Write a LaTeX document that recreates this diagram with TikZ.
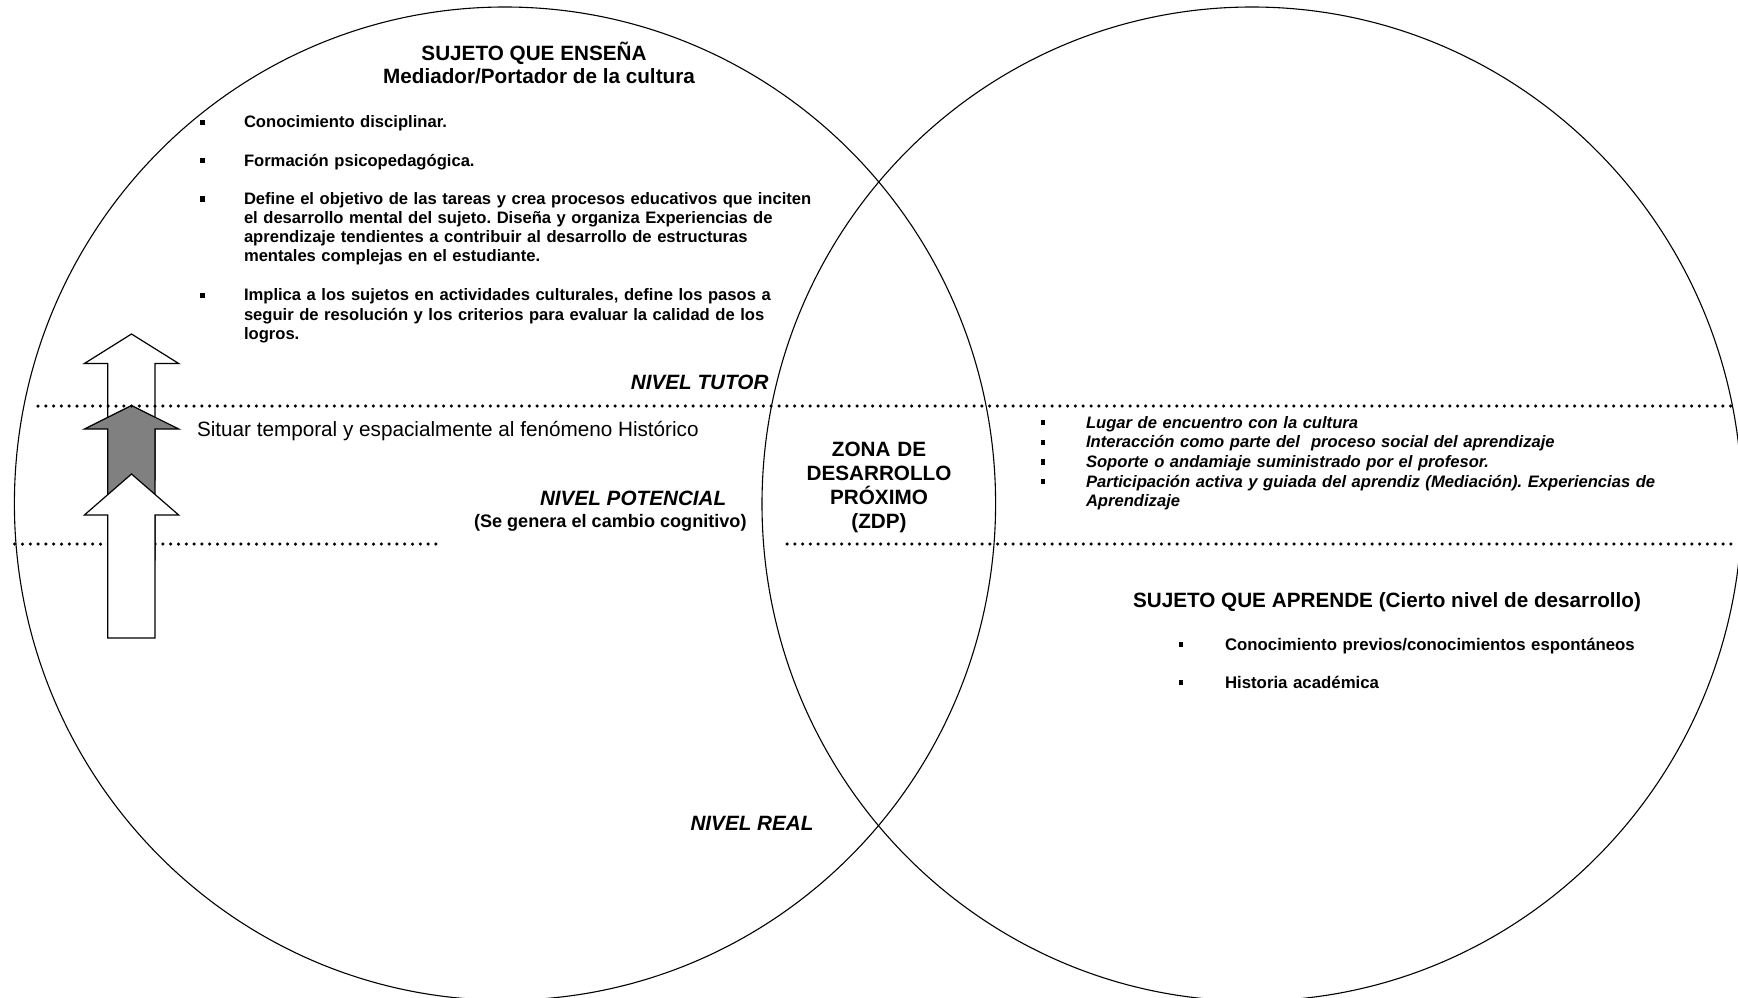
\documentclass[tikz,border=0pt]{standalone}
\usepackage{fontspec}
\setmainfont{Liberation Sans}
\frenchspacing
\begin{document}
\begin{tikzpicture}[x=1pt,y=-1pt,
  txt/.style={inner sep=0pt, outer sep=0pt},
  headtxt/.style={txt, font=\fontsize{20.7}{24.3}\selectfont\bfseries},
  leveltxt/.style={txt, font=\fontsize{20.7}{23.8}\selectfont\bfseries\itshape},
  bodytxt/.style={txt, anchor=base west, align=left, text width=620pt,
    font=\fontsize{16.6}{19.1}\selectfont\bfseries},
  ibodytxt/.style={bodytxt, font=\fontsize{16.6}{19.7}\selectfont\bfseries\itshape},
  sq/.style={rectangle, fill=black, draw=none, inner sep=0pt, minimum width=4.6pt, minimum height=5.2pt},
  outline/.style={draw=black, line width=1.1pt},
  dotline/.style={line width=3.5pt, dash pattern=on 0pt off 7.8pt, line cap=round},
  blockarrow/.style={draw=black, line width=1.2pt, line join=miter}]

\useasboundingbox[fill=white] (0,0) rectangle (1738,998);

% the two overlapping circles
\begin{scope}
  \clip (0,0) rectangle (1738,998);
  \draw[outline] (505,503.6) ellipse [x radius=490.6pt, y radius=496.6pt];
  \draw[outline] (1252,504) ellipse [x radius=490pt, y radius=497pt];
\end{scope}

% lower level line (behind the arrows)
\draw[dotline] (14.7,544) -- (436,544);
\draw[dotline] (787,544) -- (1738,544);

% three stacked up arrows
\draw[blockarrow, fill=white] (107.7,480) -- (107.7,363.5) -- (84.4,363.5) -- (131.5,334)
  -- (178.7,363.5) -- (154.9,363.5) -- (154.9,480) -- cycle;
\draw[blockarrow, fill=gray] (107.7,560) -- (107.7,429) -- (84.4,429) -- (131.5,405.5)
  -- (178.7,429) -- (154.9,429) -- (154.9,560) -- cycle;
\draw[blockarrow, fill=white] (107.7,638) -- (107.7,515) -- (84.4,515) -- (131.5,474)
  -- (178.7,515) -- (154.9,515) -- (154.9,638) -- cycle;

% upper level line
\draw[dotline] (38,406) -- (1738,406);

% teacher side
\node[headtxt, anchor=base] (ensena) at (534,60) {SUJETO QUE ENSEÑA};
\node[headtxt, anchor=base] (mediador) at (539,83.7) {Mediador/Portador de la cultura};

\node[sq] (bl1) at (202.6,122.5) {};
\node[bodytxt] (tl1) at (244,128) {Conocimiento disciplinar.};
\node[sq] (bl2) at (202.6,160.7) {};
\node[bodytxt] (tl2) at (244,166.2) {Formación psicopedagógica.};
\node[sq] (bl3) at (202.6,198.9) {};
\node[bodytxt] (tl3) at (244,204.4) {Define el objetivo de las tareas y crea procesos educativos que inciten\\
  el desarrollo mental del sujeto. Diseña y organiza Experiencias de\\
  aprendizaje tendientes a contribuir al desarrollo de estructuras\\
  mentales complejas en el estudiante.};
\node[sq] (bl4) at (202.6,295.4) {};
\node[bodytxt] (tl4) at (244,300.9) {Implica a los sujetos en actividades culturales, define los pasos a\\
  seguir de resolución y los criterios para evaluar la calidad de los\\
  logros.};

% levels
\node[leveltxt, anchor=base east] (tutor) at (768.5,389) {NIVEL TUTOR};
\node[txt, anchor=base west, font=\fontsize{20.7}{23.8}\selectfont] (situar) at (197,436)
  {Situar temporal y espacialmente al fenómeno Histórico};
\node[leveltxt, anchor=base west] (potencial) at (540,505.5) {NIVEL POTENCIAL};
\node[txt, anchor=base west, font=\fontsize{18.1}{20.8}\selectfont\bfseries] (cambio) at (474,527)
  {(Se genera el cambio cognitivo)};
\node[leveltxt, anchor=base west] (real) at (690.5,830.7) {NIVEL REAL};

% zone of proximal development
\node[headtxt, anchor=base, align=center, text width=170pt] (zdp) at (879,456)
  {ZONA DE\\DESARROLLO\\PRÓXIMO\\(ZDP)};

% shared area
\node[sq] (br1) at (1043,422.5) {};
\node[ibodytxt] (tr1) at (1086,428) {Lugar de encuentro con la cultura};
\node[sq] (br2) at (1043,442.2) {};
\node[ibodytxt] (tr2) at (1086,447.7) {Interacción como parte del~ proceso social del aprendizaje};
\node[sq] (br3) at (1043,461.9) {};
\node[ibodytxt] (tr3) at (1086,467.4) {Soporte o andamiaje suministrado por el profesor.};
\node[sq] (br4) at (1043,481.6) {};
\node[ibodytxt] (tr4) at (1086,487.1) {Participación activa y guiada del aprendiz (Mediación). Experiencias de\\
  Aprendizaje};

% learner side
\node[headtxt, anchor=base west] (aprende) at (1133,607) {SUJETO QUE APRENDE (Cierto nivel de desarrollo)};
\node[sq] (bs1) at (1181,644.5) {};
\node[bodytxt, font=\fontsize{16.8}{19.1}\selectfont\bfseries] (ts1) at (1225,650) {Conocimiento previos/conocimientos espontáneos};
\node[sq] (bs2) at (1181,682.8) {};
\node[bodytxt, font=\fontsize{16.8}{19.1}\selectfont\bfseries] (ts2) at (1225,688.3) {Historia académica};

\end{tikzpicture}
\end{document}
